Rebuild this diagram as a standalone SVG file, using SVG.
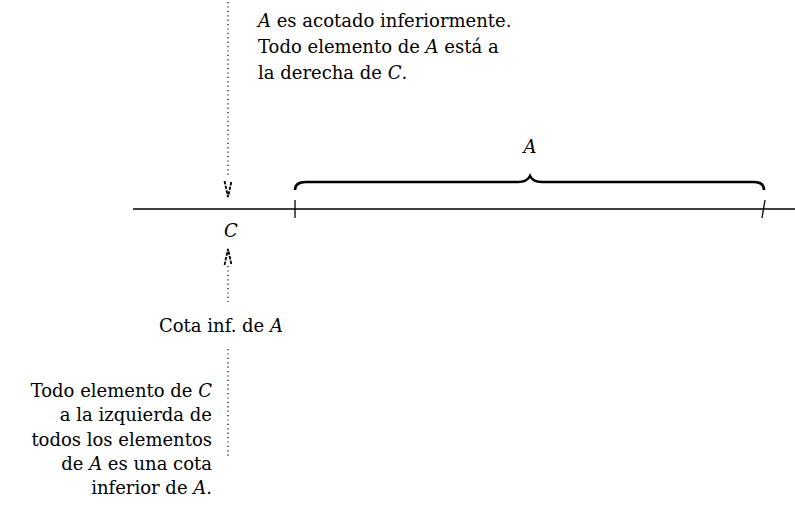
<svg xmlns="http://www.w3.org/2000/svg" width="795" height="508" viewBox="0 0 795 508">
<style>
text{font-family:"DejaVu Serif","Liberation Serif",serif;font-size:18px;fill:#000}
.i{font-style:italic}
.dot{stroke:#000;stroke-width:1.2;stroke-dasharray:1.2 3.2;fill:none}
.ln{stroke:#000;stroke-width:1.3;fill:none}
.tip{stroke:#000;stroke-width:1.8;stroke-dasharray:3.5 1.2;fill:none}
</style>
<rect width="795" height="508" fill="#fff"/>
<g id="connectors">
<path class="dot" d="M228 2 V176"/>
<path class="tip" d="M224.5 181 L228 197 L231.5 181"/>
<path class="dot" d="M228 266 V302"/>
<path class="tip" d="M224.5 265 L228 249 L231.5 265"/>
<path class="dot" d="M228 349 V456"/>
</g>
<g id="axis">
<path class="ln" d="M133 209 H795"/>
<path class="ln" d="M295 200 V218"/>
<path class="ln" d="M765 200 L762 218"/>
<path d="M295 190 Q295 182 306 182 H518 Q527 182 530 176 Q533 182 542 182 H754 Q764 182 764 190" stroke="#000" stroke-width="2.6" fill="none"/>
</g>
<g id="topnote">
<text x="258" y="27"><tspan class="i">A</tspan> es acotado inferiormente.</text>
<text x="258" y="53">Todo elemento de <tspan class="i">A</tspan> está a</text>
<text x="258" y="79">la derecha de <tspan class="i">C</tspan>.</text>
</g>
<g id="labelA"><text x="530" y="153" class="i" text-anchor="middle">A</text></g>
<g id="labelC"><text x="231" y="237" class="i" text-anchor="middle">C</text></g>
<g id="cota"><text x="221" y="332" text-anchor="middle">Cota inf. de <tspan class="i">A</tspan></text></g>
<g id="bottomnote" text-anchor="end">
<text x="212" y="397">Todo elemento de <tspan class="i">C</tspan></text>
<text x="212" y="421">a la izquierda de</text>
<text x="212" y="446">todos los elementos</text>
<text x="212" y="470">de <tspan class="i">A</tspan> es una cota</text>
<text x="212" y="494">inferior de <tspan class="i">A</tspan>.</text>
</g>
</svg>
